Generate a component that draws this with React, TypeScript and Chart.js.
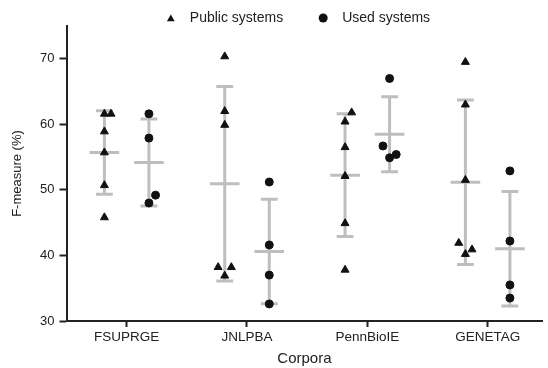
import React, { useEffect, useRef } from 'react';
import { Chart, registerables } from 'chart.js';

Chart.register(...registerables);

// ---- data ----
const categories = ['FSUPRGE', 'JNLPBA', 'PennBioIE', 'GENETAG'];
const seriesNames = ['Public systems', 'Used systems'];
const publicValues = [
  [61.6, 61.6, 58.9, 55.7, 50.7, 45.8],
  [70.35, 62.0, 59.9, 38.2, 38.2, 36.9],
  [61.8, 60.4, 56.5, 52.1, 44.9, 37.8],
  [69.5, 63.0, 51.5, 41.9, 40.2, 40.9],
];
const usedValues = [
  [61.6, 57.9, 49.2, 48.0],
  [51.2, 41.6, 37.0, 32.6],
  [67.0, 56.7, 54.9, 55.4],
  [52.9, 42.2, 35.5, 33.5],
];
// horizontal jitter steps of overlapping points (column scatter)
const publicJitter = [
  [0, 1, 0, 0, 0, 0],
  [0, 0, 0, -1, 1, 0],
  [1, 0, 0, 0, 0, 0],
  [0, 0, 0, -1, 0, 1],
];
const usedJitter = [
  [0, 0, 1, 0],
  [0, 0, 0, 0],
  [0, -1, 0, 1],
  [0, 0, 0, 0],
];
const yTicks = [30, 40, 50, 60, 70];

// ---- styling constants ----
const FONT = '"Liberation Sans", Arial, Helvetica, sans-serif';
const TEXT = '#222222';
const MARK = '#111111';
const BAR = '#bebebe';
const SERIES_OFFSET = 0.185;
const JITTER_STEP = 0.055;
const MEAN_HALF = 0.123;
const CAP_HALF = 0.07;

const mean = (a: number[]) => a.reduce((s, v) => s + v, 0) / a.length;
const sd = (a: number[]) => {
  const m = mean(a);
  return Math.sqrt(a.reduce((s, v) => s + (v - m) * (v - m), 0) / (a.length - 1));
};

function pointsFor(values: number[][], jitter: number[][], offset: number) {
  const out: { x: number; y: number }[] = [];
  values.forEach((arr, i) => {
    arr.forEach((v, j) => {
      out.push({ x: i + offset + jitter[i][j] * JITTER_STEP, y: v });
    });
  });
  return out;
}

function errorBarsFor(values: number[][], offset: number) {
  const out: { x: number; y: number | null }[] = [];
  values.forEach((arr, i) => {
    const cx = i + offset;
    const m = mean(arr);
    const s = sd(arr);
    const gap = { x: cx, y: null };
    out.push({ x: cx, y: m - s }, { x: cx, y: m + s }, gap);
    out.push({ x: cx - CAP_HALF, y: m + s }, { x: cx + CAP_HALF, y: m + s }, gap);
    out.push({ x: cx - CAP_HALF, y: m - s }, { x: cx + CAP_HALF, y: m - s }, gap);
    out.push({ x: cx - MEAN_HALF, y: m }, { x: cx + MEAN_HALF, y: m }, gap);
  });
  return out;
}

function drawMarker(ctx: CanvasRenderingContext2D, style: string, x: number, y: number, r: number) {
  ctx.beginPath();
  if (style === 'triangle') {
    let rad = 0;
    for (let k = 0; k < 3; k++) {
      const px = x + Math.sin(rad) * r;
      const py = y - Math.cos(rad) * r;
      if (k === 0) ctx.moveTo(px, py);
      else ctx.lineTo(px, py);
      rad += (2 * Math.PI) / 3;
    }
    ctx.closePath();
  } else {
    ctx.arc(x, y, r, 0, Math.PI * 2);
  }
  ctx.fill();
}

const legendPlugin = {
  id: 'topLegend',
  afterDraw(chart: any) {
    const ctx: CanvasRenderingContext2D = chart.ctx;
    const items = chart.data.datasets.filter((d: any) => d.inLegend);
    ctx.save();
    ctx.font = `14px ${FONT}`;
    ctx.fillStyle = MARK;
    ctx.textBaseline = 'middle';
    ctx.textAlign = 'left';
    const markerToText = 19;
    const itemGap = 40;
    const widths = items.map((d: any) => ctx.measureText(d.label).width);
    let total = 4;
    widths.forEach((w: number, k: number) => {
      total += markerToText + w + (k < widths.length - 1 ? itemGap : 0);
    });
    const center = (chart.chartArea.left + chart.chartArea.right) / 2 - 6;
    let x = center - total / 2 + 4;
    const y = 18;
    items.forEach((d: any, k: number) => {
      ctx.fillStyle = MARK;
      drawMarker(ctx, d.pointStyle, x, d.pointStyle === 'triangle' ? y + 1 : y, 4.5);
      ctx.fillStyle = TEXT;
      ctx.fillText(d.label, x + markerToText, y);
      x += markerToText + widths[k] + itemGap;
    });
    ctx.restore();
  },
};

export default function App() {
  const canvasRef = useRef<HTMLCanvasElement | null>(null);

  useEffect(() => {
    if (!canvasRef.current) return;
    Chart.defaults.font.family = FONT;
    const chart = new Chart(canvasRef.current, {
      type: 'scatter',
      data: {
        datasets: [
          {
            label: seriesNames[0],
            inLegend: true,
            data: pointsFor(publicValues, publicJitter, -SERIES_OFFSET),
            pointStyle: 'triangle',
            pointRadius: 4.6,
            pointBackgroundColor: MARK,
            pointBorderColor: MARK,
            pointBorderWidth: 1,
            order: 0,
          } as any,
          {
            label: seriesNames[1],
            inLegend: true,
            data: pointsFor(usedValues, usedJitter, SERIES_OFFSET),
            pointStyle: 'circle',
            pointRadius: 4,
            pointBackgroundColor: MARK,
            pointBorderColor: MARK,
            pointBorderWidth: 1,
            order: 0,
          } as any,
          {
            label: 'Mean ± SD',
            data: [...errorBarsFor(publicValues, -SERIES_OFFSET), ...errorBarsFor(usedValues, SERIES_OFFSET)],
            showLine: true,
            spanGaps: false,
            borderColor: BAR,
            borderWidth: 3,
            borderCapStyle: 'butt',
            pointRadius: 0,
            order: 2,
          } as any,
        ],
      },
      options: {
        responsive: false,
        animation: false,
        layout: { padding: { top: 26, left: 0, right: 0, bottom: 0 } },
        plugins: {
          legend: { display: false },
          tooltip: { enabled: false },
        },
        scales: {
          x: {
            type: 'linear',
            min: -0.5,
            max: 3.455,
            afterBuildTicks: (scale: any) => {
              scale.ticks = categories.map((_, i) => ({ value: i }));
            },
            afterFit: (scale: any) => {
              scale.height = 47;
            },
            ticks: {
              autoSkip: false,
              maxRotation: 0,
              padding: 2,
              color: TEXT,
              font: { size: 13.5, family: FONT },
              callback: (_v: any, i: number) => categories[i],
            },
            grid: {
              drawOnChartArea: false,
              drawTicks: true,
              tickLength: 6,
              tickColor: TEXT,
              tickWidth: 2,
            },
            border: { display: true, color: TEXT, width: 2 },
            title: {
              display: true,
              text: 'Corpora',
              color: TEXT,
              font: { size: 15, family: FONT, lineHeight: 1 },
              padding: { top: 0, bottom: 2 },
            },
          },
          y: {
            type: 'linear',
            min: 30,
            max: 75,
            afterBuildTicks: (scale: any) => {
              scale.ticks = yTicks.map((v) => ({ value: v }));
            },
            afterFit: (scale: any) => {
              scale.width = 66.5;
            },
            ticks: {
              padding: 5,
              color: TEXT,
              font: { size: 13, family: FONT },
              callback: (v: any) => String(v),
            },
            grid: {
              drawOnChartArea: false,
              drawTicks: true,
              tickLength: 7,
              tickColor: TEXT,
              tickWidth: 2,
            },
            border: { display: true, color: TEXT, width: 2 },
            title: {
              display: true,
              text: 'F-measure (%)',
              color: TEXT,
              font: { size: 13, family: FONT, lineHeight: 1.2 },
              padding: { top: 10, bottom: 0 },
            },
          },
        },
      },
      plugins: [legendPlugin],
    });
    return () => chart.destroy();
  }, []);

  return (
    <div style={{ position: 'fixed', left: 0, top: 0, width: 548, height: 368, background: '#ffffff' }}>
      <canvas ref={canvasRef} width={548} height={368} style={{ display: 'block' }} />
    </div>
  );
}
